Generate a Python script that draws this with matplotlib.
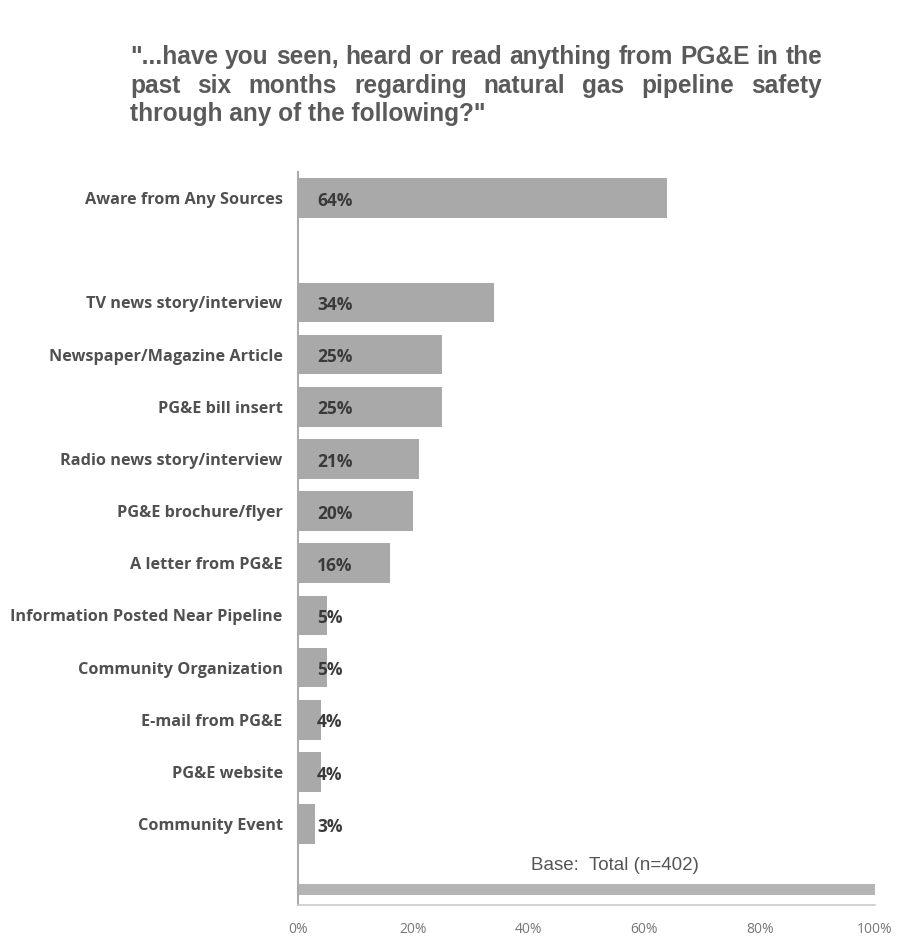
import matplotlib.pyplot as plt

# dados
categorias = ["Aware from Any Sources", "TV news story/interview", "Newspaper/Magazine Article",
              "PG&E bill insert", "Radio news story/interview", "PG&E brochure/flyer",
              "A letter from PG&E", "Information Posted Near Pipeline", "Community Organization",
              "E-mail from PG&E", "PG&E website", "Community Event"]
valores = [64, 34, 25, 25, 21, 20, 16, 5, 5, 4, 4, 3]
posicoes = [-2, 0, 1, 2, 3, 4, 5, 6, 7, 8, 9, 10]
base_total = 100
base_texto = "Base:  Total (n=402)"
ticks_x = [0, 20, 40, 60, 80, 100]
titulo = ['"...have you seen, heard or read anything from PG&E in the',
          'past six months regarding natural gas pipeline safety',
          'through any of the following?"']

fig = plt.figure(figsize=(9.15, 9.44), dpi=100)
ax = fig.add_axes([0.3257, 0.0413, 0.6306, 0.7765])

ax.barh(posicoes, valores, height=0.76, color="#a9a9a9")
ax.barh([11.25], [base_total], height=0.2, color="#b5b5b5")

for p, v in zip(posicoes, valores):
    ax.text(3.3, p + 0.05, f"{v}%", va="center", ha="left", fontsize=12.5,
            fontweight="bold", color="#3a3a3a", family="Open Sans")

ax.text(55, 10.8, base_texto, ha="center", va="center", fontsize=13.5,
        color="#555555", family="Liberation Sans")

ax.set_xlim(0, 100)
ax.set_ylim(11.55, -2.5)
ax.set_yticks(posicoes)
ax.set_yticklabels(categorias, fontsize=10.5, fontweight="bold", color="#505050", family="Open Sans")
ax.set_xticks(ticks_x)
ax.set_xticklabels([f"{t}%" for t in ticks_x], fontsize=10, color="#777777", family="Open Sans")
ax.tick_params(axis="both", length=0)
ax.tick_params(axis="y", pad=11)
ax.tick_params(axis="x", pad=12)
for s in ["top", "right"]:
    ax.spines[s].set_visible(False)
ax.spines["left"].set_color("#aaaaaa")
ax.spines["left"].set_linewidth(1.5)
ax.spines["bottom"].set_color("#cccccc")
ax.spines["bottom"].set_linewidth(1.2)

fig.canvas.draw()
renderer = fig.canvas.get_renderer()

# ajusta o tamanho dos rótulos do eixo y para a largura do original
maior = max(ax.get_yticklabels(), key=lambda t: t.get_window_extent(renderer).width)
fator = 272 / maior.get_window_extent(renderer).width
for t in ax.get_yticklabels():
    t.set_fontsize(10.5 * fator)

# título justificado
x_esq, x_dir = 130 / 915, 822 / 915
ys = [1 - 64 / 944, 1 - 93 / 944, 1 - 121 / 944]
estilo = dict(fontweight="bold", color="#5a5a5a", family="Liberation Sans",
              va="baseline", ha="left")
teste = fig.text(0, 0, titulo[0], fontsize=10, **estilo)
tam = 10 * (x_dir - x_esq) * fig.bbox.width / teste.get_window_extent(renderer).width
teste.remove()
for i, (linha, y) in enumerate(zip(titulo, ys)):
    if i == len(titulo) - 1:
        fig.text(x_esq, y, linha, fontsize=tam, **estilo)
        continue
    palavras = linha.split(" ")
    objs = [fig.text(0, y, w, fontsize=tam, **estilo) for w in palavras]
    larguras = [o.get_window_extent(renderer).width / fig.bbox.width for o in objs]
    espaco = (x_dir - x_esq - sum(larguras)) / (len(palavras) - 1)
    x = x_esq
    for o, w in zip(objs, larguras):
        o.set_x(x)
        x += w + espaco

fig.savefig("out.png", dpi=100, facecolor="white")
